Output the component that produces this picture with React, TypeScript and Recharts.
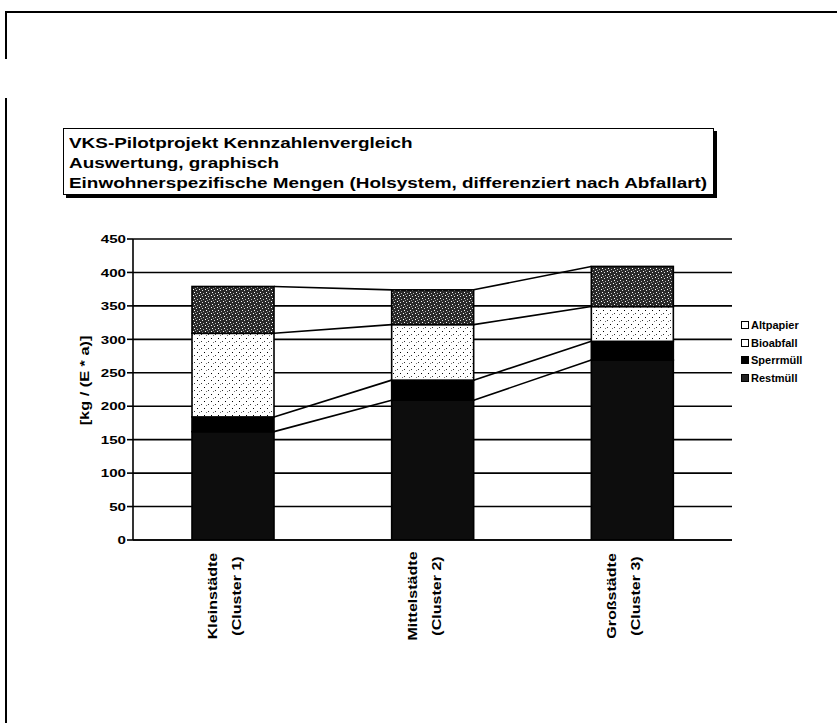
import React from 'react';
import { BarChart, Bar, XAxis, YAxis, CartesianGrid } from 'recharts';

const categories = ['Kleinstädte', 'Mittelstädte', 'Großstädte'];
const clusters = ['(Cluster 1)', '(Cluster 2)', '(Cluster 3)'];

// stacked bottom -> top
const restmuell = [162, 209, 269];
const sperrmuell = [22, 30, 28];
const bioabfall = [125, 83, 52];
const altpapier = [70, 52, 60];

const yTicks = [0, 50, 100, 150, 200, 250, 300, 350, 400, 450];
// category boundaries (Excel-style tick marks between bars)
const boundaryTicks = [1, 2];

const titleLines = [
  'VKS-Pilotprojekt Kennzahlenvergleich',
  'Auswertung, graphisch',
  'Einwohnerspezifische Mengen (Holsystem, differenziert nach Abfallart)',
];

const FONT = '"Liberation Sans", Arial, sans-serif';
const W = 837;
const H = 723;
const MARGIN = { top: 239, right: 105, bottom: 63, left: 60 };
const Y_AXIS_W = 73;
const PLOT_W = W - MARGIN.left - MARGIN.right - Y_AXIS_W;
const BAND = PLOT_W / categories.length;

const series = [
  { key: 'restmuell', name: 'Restmüll', values: restmuell, fill: '#0d0d0d', marker: '#222' },
  { key: 'sperrmuell', name: 'Sperrmüll', values: sperrmuell, fill: '#000', marker: '#000' },
  { key: 'bioabfall', name: 'Bioabfall', values: bioabfall, fill: 'url(#speckleLight)', marker: '#fff' },
  { key: 'altpapier', name: 'Altpapier', values: altpapier, fill: 'url(#speckleDark)', marker: '#fff' },
];

const data = categories.map((name, i) => {
  const row: Record<string, string | number> = { name, cluster: clusters[i] };
  series.forEach((s) => {
    row[s.key] = s.values[i];
  });
  return row;
});

// cumulative top of each series per category
const cumulative = series.map((_, si) =>
  categories.map((__, ci) => series.slice(0, si + 1).reduce((acc, s) => acc + s.values[ci], 0))
);

function makeShape(si: number) {
  return (props: any) => {
    const { x, y, width, height, index } = props;
    const seg = series[si].values[index];
    const ppu = seg > 0 ? height / seg : 0;
    let link = null;
    if (index < categories.length - 1) {
      const dy = (cumulative[si][index + 1] - cumulative[si][index]) * ppu;
      link = (
        <line x1={x + width} y1={y} x2={x + BAND} y2={y - dy} stroke="#000" strokeWidth={1.6} />
      );
    }
    return (
      <g>
        <rect x={x} y={y} width={width} height={height} fill={series[si].fill} stroke="#000" strokeWidth={1.6} />
        {link}
      </g>
    );
  };
}

function CategoryTick({ x, y, payload, index }: any) {
  const common = {
    textAnchor: 'middle' as const,
    fontFamily: FONT,
    fontWeight: 700,
    fontSize: 13.5,
    fill: '#000',
  };
  return (
    <g transform={`translate(${x},${y + 54}) rotate(-90) scale(1.19,1)`}>
      <text x={0} y={-16} {...common}>
        {payload.value}
      </text>
      <text x={0} y={8} {...common}>
        {clusters[index]}
      </text>
    </g>
  );
}

function YTick({ x, y, payload }: any) {
  return (
    <text
      transform={`translate(${x},${y}) scale(1.28,1)`}
      x={0}
      y={0}
      dy="0.355em"
      textAnchor="end"
      fontFamily={FONT}
      fontWeight={700}
      fontSize={11.8}
      fill="#000"
    >
      {payload.value}
    </text>
  );
}

function YTitle({ viewBox }: any) {
  const cx = viewBox.x + 25;
  const cy = viewBox.y + viewBox.height / 2 - 9;
  return (
    <text
      transform={`translate(${cx},${cy}) rotate(-90) scale(1.36,1)`}
      textAnchor="middle"
      dominantBaseline="central"
      fontFamily={FONT}
      fontWeight={700}
      fontSize={12}
      fill="#000"
    >
      [kg / (E * a)]
    </text>
  );
}

export default function App() {
  const legendItems = [...series].reverse();
  return (
    <div style={{ position: 'absolute', left: 0, top: 0, width: W, height: H, background: '#fff', overflow: 'hidden' }}>
      {/* scan frame */}
      <div style={{ position: 'absolute', left: 5, top: 11, width: W - 5, height: 2, background: '#000' }} />
      <div style={{ position: 'absolute', left: 5, top: 11, width: 2, height: 48, background: '#000' }} />
      <div style={{ position: 'absolute', left: 5, top: 98, width: 2, height: H - 98, background: '#000' }} />

      <div
        style={{
          position: 'absolute',
          left: 63,
          top: 128,
          width: 651,
          height: 67,
          boxSizing: 'border-box',
          border: '1.5px solid #000',
          boxShadow: '3px 3px 0 #000',
          padding: '4px 0 0 4.5px',
          fontFamily: FONT,
          fontWeight: 700,
          fontSize: 15.5,
          lineHeight: '20px',
          color: '#000',
          background: '#fff',
          whiteSpace: 'nowrap',
        }}
      >
        <div style={{ transform: 'scaleX(1.22)', transformOrigin: 'left top' }}>
          {titleLines.map((t) => (
            <div key={t}>{t}</div>
          ))}
        </div>
      </div>

      <div style={{ position: 'absolute', left: 0, top: 0 }}>
        <BarChart width={W} height={H} data={data} margin={MARGIN} barSize={82}>
          <defs>
            <pattern id="speckleDark" width="6" height="6" patternUnits="userSpaceOnUse">
              <rect width="6" height="6" fill="#2a2a2a" />
              <rect x="1" y="1" width="1" height="1" fill="#fff" />
              <rect x="4" y="2" width="1" height="1" fill="#ddd" />
              <rect x="2" y="4" width="1" height="1" fill="#fff" />
              <rect x="5" y="5" width="1" height="1" fill="#bbb" />
              <rect x="3" y="0" width="1" height="1" fill="#999" />
            </pattern>
            <pattern id="speckleLight" width="7" height="7" patternUnits="userSpaceOnUse">
              <rect width="7" height="7" fill="#fff" />
              <rect x="1" y="2" width="1" height="1" fill="#000" />
              <rect x="5" y="5" width="1" height="1" fill="#333" />
              <rect x="3" y="6" width="1" height="1" fill="#777" />
            </pattern>
          </defs>
          <CartesianGrid vertical={false} stroke="#000" strokeWidth={1.6} />
          <XAxis
            xAxisId="bounds"
            type="number"
            domain={[0, categories.length]}
            ticks={boundaryTicks}
            tick={false}
            tickSize={4}
            tickLine={{ stroke: '#000', strokeWidth: 1.6 }}
            axisLine={false}
            height={0}
          />
          <XAxis
            dataKey="name"
            tick={<CategoryTick />}
            tickLine={false}
            tickSize={0}
            height={H - MARGIN.top - MARGIN.bottom - 301}
            axisLine={{ stroke: '#000', strokeWidth: 1.6 }}
            interval={0}
          />
          <YAxis
            domain={[0, 450]}
            ticks={yTicks}
            width={Y_AXIS_W}
            tickSize={6}
            tickMargin={1}
            tickLine={{ stroke: '#000', strokeWidth: 1.6 }}
            axisLine={{ stroke: '#000', strokeWidth: 1.6 }}
            tick={<YTick />}
            label={{ content: <YTitle /> } as any}
            allowDataOverflow
          />
          <YAxis
            yAxisId="right"
            orientation="right"
            domain={[0, 450]}
            width={0}
            tick={false}
            tickLine={false}
            axisLine={{ stroke: '#000', strokeWidth: 1.6 }}
          />
          {series.map((s, si) => (
            <Bar
              key={s.key}
              dataKey={s.key}
              name={s.name}
              stackId="a"
              fill={s.fill}
              shape={makeShape(si)}
              isAnimationActive={false}
            />
          ))}
        </BarChart>
      </div>

      <div style={{ position: 'absolute', left: 741, top: 316, fontFamily: FONT, fontWeight: 700, fontSize: 11, color: '#000' }}>
        {legendItems.map((s) => (
          <div key={s.key} style={{ display: 'flex', alignItems: 'center', height: 17.7 }}>
            <span
              style={{
                display: 'inline-block',
                width: 6,
                height: 6,
                border: '1px solid #000',
                background: s.marker,
                marginRight: 2,
              }}
            />
            <span>{s.name}</span>
          </div>
        ))}
      </div>
    </div>
  );
}
